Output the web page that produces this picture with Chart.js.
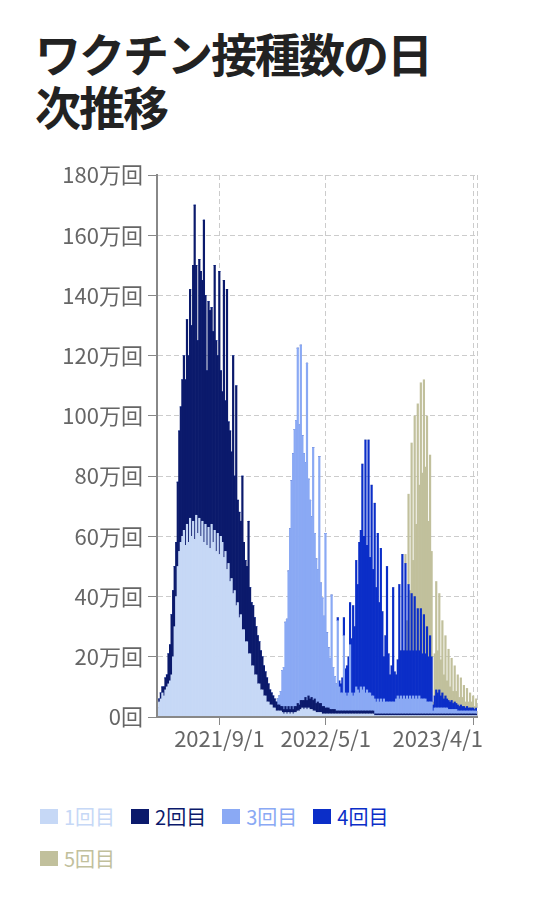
<!DOCTYPE html>
<html lang="ja">
<head>
<meta charset="utf-8">
<title>ワクチン接種数の日次推移</title>
<script src="https://cdn.jsdelivr.net/npm/chart.js@4.4.1/dist/chart.umd.min.js"></script>
<style>
  body {
    margin: 0;
    width: 560px;
    height: 900px;
    position: relative;
    overflow: hidden;
    background: #fff;
    font-family: "Noto Sans CJK JP", "Noto Sans", sans-serif;
  }
  h1 {
    position: absolute;
    left: 35px;
    top: 26px;
    width: 420px;
    margin: 0;
    font-size: 46px;
    line-height: 53px;
    letter-spacing: -2px;
    font-weight: 700;
    color: #222;
  }
  .chart-box {
    position: absolute;
    left: 0;
    top: 150px;
    width: 560px;
    height: 620px;
  }
  #legend {
    position: absolute;
    left: 40px;
    top: 795px;
    width: 420px;
    display: flex;
    flex-wrap: wrap;
  }
  .legend-item {
    display: flex;
    align-items: center;
    height: 42px;
    margin-right: 16px;
    font-size: 20px;
  }
  .swatch {
    width: 18px;
    height: 15px;
    margin-right: 6px;
  }
</style>
</head>
<body>
<h1>ワクチン接種数の日次推移</h1>
<div class="chart-box"><canvas id="vaccineChart"></canvas></div>
<div id="legend"></div>

<script>
// daily doses in 万回, one value per half week from 2021/4/12
const startDate = '2021/4/12';
const stepDays = 3.5;
const endDays = 728;
const xTickLabels = ['2021/9/1', '2022/5/1', '2023/4/1'];
const yMax = 180;
const yStep = 20;
const seriesNames = ['1回目', '2回目', '3回目', '4回目', '5回目'];

const dose1 = [
    3, 5, 6, 8, 7, 9, 10, 11, 12, 14, 20, 30, 40, 50, 55, 58, 60, 62, 57, 64,
    58, 66, 60, 65, 59, 67, 61, 66, 60, 65, 58, 64, 57, 63, 56, 64, 58, 62, 55, 61,
    54, 60, 58, 53, 55, 49, 51, 45, 46, 41, 42, 37, 38, 33, 34, 29, 29, 25, 25, 21,
    21, 17, 17, 14, 14, 11, 11, 9, 9, 7, 7, 5, 5, 4, 4, 3, 3, 2, 2, 2,
    2, 1.5, 1, 1.5, 1, 1.5, 1, 1.5, 1, 1.5, 1.5, 2, 2, 2.5, 3, 2.5, 3, 2.5, 3, 2.5,
    2.5, 2, 2, 1.5, 1.5, 1.5, 1.5, 1, 1, 1, 1, 1, 1, 1, 1, 1, 1, 1, 1, 1,
    1, 1, 1, 1, 1, 1, 1, 1, 1, 1, 1, 1, 1, 1, 1, 1, 1, 1, 1, 1,
    1, 0.5, 0.5, 0.5, 0.5, 0.5, 0.5, 0.5, 0.5, 0.5, 0.5, 0.5, 0.5, 0.5, 0.5, 0.5, 0.5, 0.5, 0.5, 0.5,
    0.5, 0.5, 0.5, 0.5, 0.5, 0.5, 0.5, 0.5, 0.5, 0.5, 0.5, 0.5, 0.5, 0.5, 0.5, 0.5, 0.5, 0.5, 0.5, 0.5,
    0.5, 0.5, 0.5, 0.5, 0.5, 0.5, 0.5, 0.5, 0.5, 0.5, 0.5, 0.5, 0.5, 0.5, 0.5, 0.5, 0.5, 0.5, 0.5, 0.5,
    0.5, 0.5, 0.5, 0.5, 0.5, 0.5, 0.5, 0.5
];

const dose2 = [
    0, 1, 2, 2, 3, 4, 4, 10, 12, 20, 22, 20, 18, 28, 40, 45, 52, 58, 55, 68,
    62, 76, 70, 85, 111, 83, 64, 86, 88, 80, 107, 76, 58, 75, 79, 72, 70, 88, 70, 59,
    94, 55, 50, 92, 50, 93, 47, 50, 42, 79, 38, 73, 34, 35, 31, 51, 29, 27, 25, 44,
    22, 21, 20, 19, 16, 16, 14, 13, 11, 10, 8, 8, 6, 5, 4, 4, 3, 3, 2, 2,
    1.5, 2, 1.5, 2, 1.5, 2, 1.5, 2, 1.5, 2, 2, 2.5, 2, 3, 2.5, 3, 3.5, 3, 4, 3.5,
    4, 3.5, 4, 3, 3.5, 3, 3, 2.5, 2.5, 2, 2, 2, 1.5, 1.5, 1.5, 1.5, 1, 1, 1, 1,
    1, 1, 1, 1, 1, 1, 1, 1, 1, 1, 1, 1, 1, 1, 1, 1, 1, 1, 1, 1,
    1, 0.5, 0.5, 0.5, 0.5, 0.5, 0.5, 0.5, 0.5, 0.5, 0.5, 0.5, 0.5, 0.5, 0.5, 0.5, 0.5, 0.5, 0.5, 0.5,
    0.5, 0.5, 0.5, 0.5, 0.5, 0.5, 0.5, 0.5, 0.5, 0.5, 0.5, 0.5, 0.5, 0.5, 0.5, 0.5, 0.5, 0.5, 0.5, 0.5,
    0.5, 0.5, 0.5, 0.5, 0.5, 0.5, 0.5, 0.5, 0.5, 0.5, 0.5, 0.5, 0.5, 0.5, 0.5, 0.5, 0.5, 0.5, 0.5, 0.5,
    0.5, 0.5, 0.5, 0.5, 0.5, 0.5, 0.5, 0.5
];

const dose3 = [
    0, 0, 0, 0, 0, 0, 0, 0, 0, 0, 0, 0, 0, 0, 0, 0, 0, 0, 0, 0,
    0, 0, 0, 0, 0, 0, 0, 0, 0, 0, 0, 0, 0, 0, 0, 0, 0, 0, 0, 0,
    0, 0, 0, 0, 0, 0, 0, 0, 0, 0, 0, 0, 0, 0, 0, 0, 0, 0, 0, 0,
    0, 0, 0, 0, 0, 0, 0, 0, 0, 0, 0, 0, 0, 0, 0, 0, 0, 0, 2, 3,
    5, 12, 14, 28, 30, 45, 60, 75, 85, 92, 95, 118, 93, 118, 88, 82, 78, 112, 72, 66,
    60, 84, 55, 48, 44, 82, 40, 36, 30, 58, 25, 20, 17, 38, 14, 11, 9, 30, 8, 6,
    6, 25, 6, 5, 6, 22, 6, 5, 6, 8, 7, 6, 8, 7, 8, 6, 7, 6, 6, 5,
    5, 5, 4, 5, 4, 5, 4, 5, 4, 4, 4, 4, 4, 4, 4, 5, 6, 5, 6, 5,
    6, 5, 6, 5, 6, 5, 6, 5, 6, 5, 6, 5, 5, 5, 5, 4, 4, 4, 4, 1,
    2, 2, 2, 2, 2, 2, 2, 2, 2, 1.5, 1.5, 1.5, 1.5, 1.5, 1.5, 1, 1, 1, 1, 1,
    1, 1, 1, 1, 1, 1, 1, 1
];

const dose4 = [
    0, 0, 0, 0, 0, 0, 0, 0, 0, 0, 0, 0, 0, 0, 0, 0, 0, 0, 0, 0,
    0, 0, 0, 0, 0, 0, 0, 0, 0, 0, 0, 0, 0, 0, 0, 0, 0, 0, 0, 0,
    0, 0, 0, 0, 0, 0, 0, 0, 0, 0, 0, 0, 0, 0, 0, 0, 0, 0, 0, 0,
    0, 0, 0, 0, 0, 0, 0, 0, 0, 0, 0, 0, 0, 0, 0, 0, 0, 0, 0, 0,
    0, 0, 0, 0, 0, 0, 0, 0, 0, 0, 0, 0, 0, 0, 0, 0, 0, 0, 0, 0,
    0, 0, 0, 0, 0, 0, 0, 0, 0, 0, 0, 0, 0, 0, 0, 0, 0, 1, 2, 3,
    5, 6, 8, 10, 12, 14, 18, 30, 22, 42, 35, 50, 52, 75, 50, 84, 48, 84, 45, 70,
    42, 65, 38, 55, 33, 50, 30, 14, 22, 45, 16, 9, 12, 38, 10, 8, 12, 38, 15, 48,
    15, 45, 15, 38, 15, 35, 15, 34, 15, 30, 15, 30, 15, 28, 15, 25, 15, 22, 15, 2,
    4, 6, 5, 6, 4, 5, 3, 4, 3, 3, 2.5, 3, 2, 2.5, 2, 2, 1.5, 2, 1.5, 1.5,
    1, 1.5, 1, 1, 1, 1, 0.5, 1
];

const dose5 = [
    0, 0, 0, 0, 0, 0, 0, 0, 0, 0, 0, 0, 0, 0, 0, 0, 0, 0, 0, 0,
    0, 0, 0, 0, 0, 0, 0, 0, 0, 0, 0, 0, 0, 0, 0, 0, 0, 0, 0, 0,
    0, 0, 0, 0, 0, 0, 0, 0, 0, 0, 0, 0, 0, 0, 0, 0, 0, 0, 0, 0,
    0, 0, 0, 0, 0, 0, 0, 0, 0, 0, 0, 0, 0, 0, 0, 0, 0, 0, 0, 0,
    0, 0, 0, 0, 0, 0, 0, 0, 0, 0, 0, 0, 0, 0, 0, 0, 0, 0, 0, 0,
    0, 0, 0, 0, 0, 0, 0, 0, 0, 0, 0, 0, 0, 0, 0, 0, 0, 0, 0, 0,
    0, 0, 0, 0, 0, 0, 0, 0, 0, 0, 0, 0, 0, 0, 0, 0, 0, 0, 0, 0,
    0, 0, 0, 0, 0, 0, 0, 0, 0, 0, 0, 0, 0, 0, 0, 0, 0, 0, 0, 0,
    0, 3, 10, 30, 20, 50, 30, 60, 42, 68, 55, 75, 60, 78, 62, 70, 45, 60, 35, 1,
    14, 36, 14, 32, 12, 24, 8, 20, 6, 17, 5, 14, 4, 12, 4, 10, 3, 9, 3, 7,
    2, 6, 2, 5, 2, 4, 1, 3
];

const seriesColors = ['#c6d8f6', '#0b1a6c', '#8aa9f4', '#0b2ec8', '#c1c09c'];
const seriesValues = [dose1, dose2, dose3, dose4, dose5];

Chart.defaults.font.family = '"Noto Sans CJK JP", "Noto Sans", sans-serif';

// days since startDate
function dayOf(label) {
    const p = label.split('/').map(Number);
    const s = startDate.split('/').map(Number);
    return (Date.UTC(p[0], p[1] - 1, p[2]) - Date.UTC(s[0], s[1] - 1, s[2])) / 86400000;
}

const datasets = seriesNames.map((name, k) => ({
    label: name,
    data: seriesValues[k].map((v, i) => ({ x: i * stepDays + stepDays / 2, y: v })),
    backgroundColor: seriesColors[k],
    borderWidth: 0,
    categoryPercentage: 1,
    barPercentage: 1
}));

// last date label sits left of its tick, like the original
const shiftLastLabel = {
    id: 'shiftLastLabel',
    beforeDraw(chart) {
        const scale = chart.scales.x;
        const lastLabel = xTickLabels[xTickLabels.length - 1];
        scale.getLabelItems().forEach(item => {
            if (item.label === lastLabel) {
                item.options.textAlign = 'right';
                item.options.translation[0] = scale.getPixelForValue(dayOf(lastLabel)) + 10;
            }
        });
    }
};

new Chart(document.getElementById('vaccineChart'), {
    type: 'bar',
    data: { datasets: datasets },
    options: {
        responsive: true,
        maintainAspectRatio: false,
        animation: false,
        events: [],
        layout: { padding: { top: 25, right: 83, bottom: 0, left: 0 } },
        plugins: {
            legend: { display: false },
            tooltip: { enabled: false }
        },
        scales: {
            x: {
                type: 'linear',
                stacked: true,
                min: 0,
                max: endDays,
                offset: false,
                afterBuildTicks: scale => {
                    scale.ticks = xTickLabels.map(l => ({ value: dayOf(l) })).concat([{ value: endDays }]);
                },
                afterFit: scale => { scale.height = 53; },
                grid: {
                    color: '#cccccc',
                    offset: false,
                    tickLength: 8,
                    tickColor: ctx => (ctx.tick && ctx.tick.value === endDays) ? 'rgba(0,0,0,0)' : '#888888'
                },
                border: { color: '#888888', width: 2, dash: [5, 3], z: 1 },
                ticks: {
                    autoSkip: false,
                    maxRotation: 0,
                    padding: 0,
                    color: '#666666',
                    font: { size: 22 },
                    callback: value => xTickLabels.find(l => dayOf(l) === value) || ''
                }
            },
            y: {
                stacked: true,
                min: 0,
                max: yMax,
                afterFit: scale => { scale.width = 157; },
                grid: { color: '#cccccc', tickLength: 9, tickColor: '#888888' },
                border: { color: '#888888', width: 2, dash: [5, 3], z: 1 },
                ticks: {
                    stepSize: yStep,
                    padding: 5,
                    color: '#666666',
                    font: { size: 22 },
                    callback: value => value === 0 ? '0回' : value + '万回'
                }
            }
        }
    },
    plugins: [shiftLastLabel]
});

// legend
const legend = document.getElementById('legend');
seriesNames.forEach((name, k) => {
    const item = document.createElement('span');
    item.className = 'legend-item';
    item.style.color = seriesColors[k];
    item.innerHTML = `<span class="swatch" style="background:${seriesColors[k]}"></span>${name}`;
    legend.appendChild(item);
});
</script>
</body>
</html>
